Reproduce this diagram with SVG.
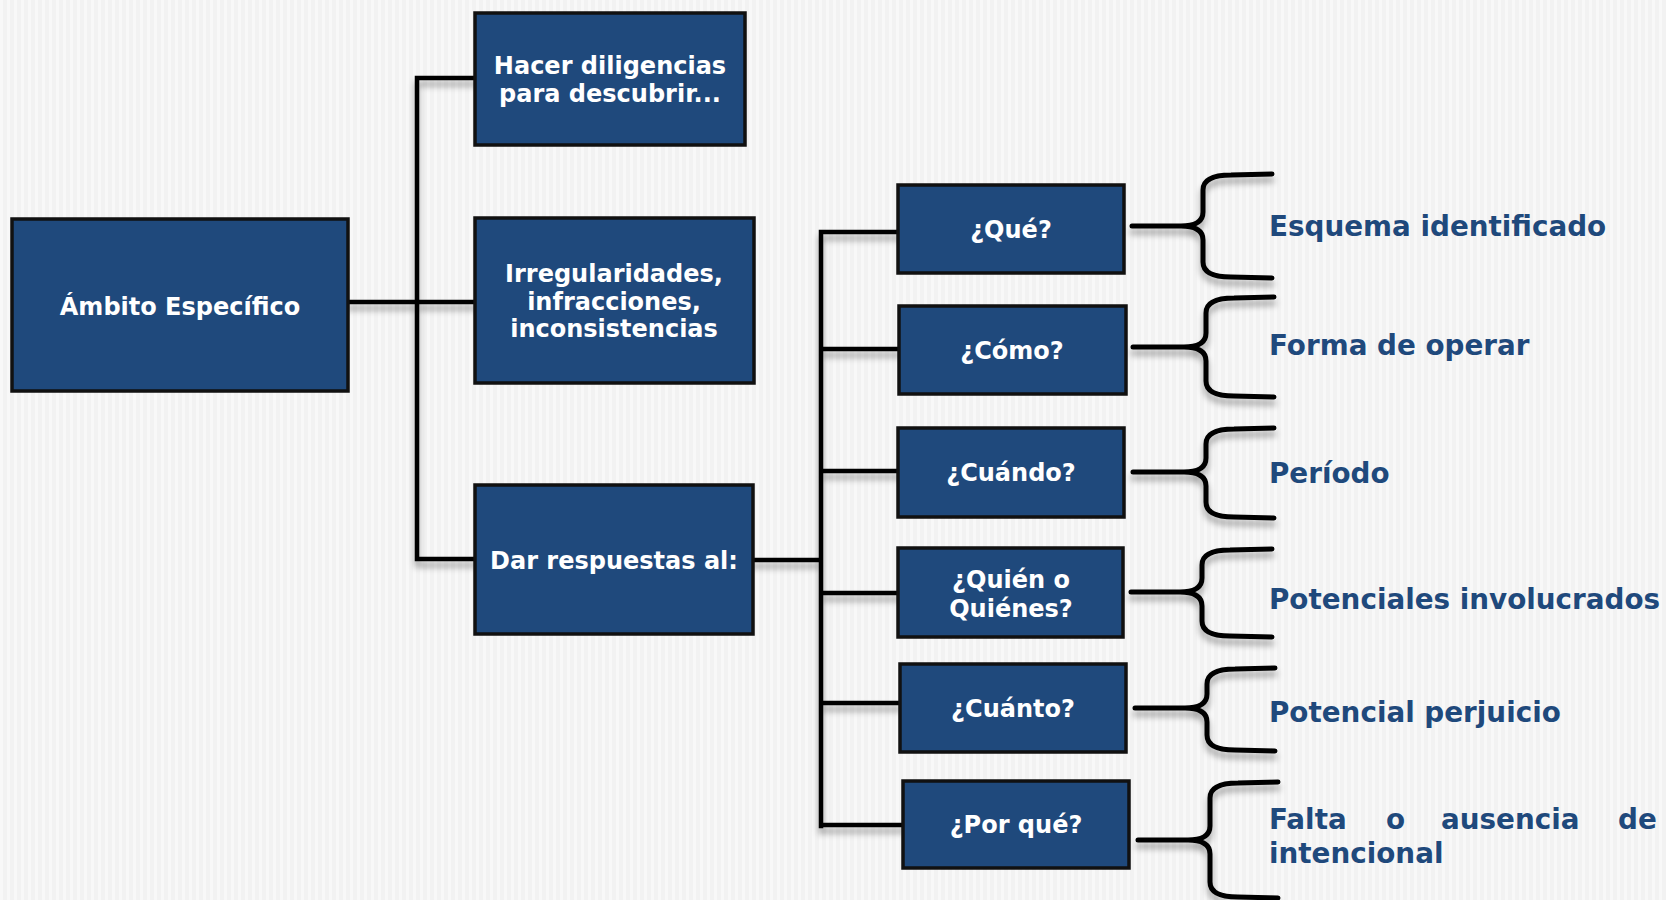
<svg xmlns="http://www.w3.org/2000/svg" width="1666" height="900" viewBox="0 0 1666 900">
<defs>
<pattern id="bg" width="7" height="7" patternUnits="userSpaceOnUse">
<rect width="7" height="7" fill="#f2f2f2"/>
<rect x="0" y="0" width="3" height="7" fill="#f8f8f8"/>
</pattern>
<filter id="sh" x="-10%" y="-10%" width="120%" height="130%">
<feDropShadow dx="0" dy="6" stdDeviation="3" flood-color="#000" flood-opacity="0.35"/>
</filter>
<style>
.box{fill:#1f497c;stroke:#111;stroke-width:3.5}
.bt{font-family:"DejaVu Sans","Verdana",sans-serif;font-weight:bold;font-size:24px;fill:#fff;text-anchor:middle}
.lt{font-family:"DejaVu Sans","Verdana",sans-serif;font-weight:bold;font-size:27.8px;fill:#1f497c}
.ln{fill:none;stroke:#000;stroke-width:4.5;stroke-linecap:square}
.br{fill:none;stroke:#000;stroke-width:5;stroke-linecap:round}
</style>
</defs>
<rect width="1666" height="900" fill="url(#bg)"/>

<g id="connectors" filter="url(#sh)">
<path class="ln" d="M417,78 V559 M417,78 H475 M348,302 H475 M417,559 H475 M753,560 H821 M821,232 V826 M821,232 H898 M821,349 H899 M821,471 H898 M821,593 H898 M821,703 H900 M821,825 H903"/>
<path class="br" d="M1132,226 H1181 Q1203,226 1203,212 V190 Q1203,175 1231,175 L1272,174 M1181,226 Q1203,226 1203,240 V262 Q1203,277 1231,277 L1272,278"/>
<path class="br" d="M1133,347 H1184 Q1206,347 1206,333 V313 Q1206,298 1234,298 L1274,297 M1184,347 Q1206,347 1206,361 V381 Q1206,396 1234,396 L1274,397"/>
<path class="br" d="M1133,472 H1184 Q1206,472 1206,458 V444 Q1206,429 1234,429 L1274,428 M1184,472 Q1206,472 1206,486 V502 Q1206,517 1234,517 L1274,518"/>
<path class="br" d="M1131,592 H1180 Q1202,592 1202,578 V565 Q1202,550 1230,550 L1272,549 M1180,592 Q1202,592 1202,606 V621 Q1202,636 1230,636 L1272,637"/>
<path class="br" d="M1135,708 H1185 Q1207,708 1207,694 V684 Q1207,669 1235,669 L1275,668 M1185,708 Q1207,708 1207,722 V735 Q1207,750 1235,750 L1275,751"/>
<path class="br" d="M1138,840 H1188 Q1210,840 1210,826 V798 Q1210,783 1238,783 L1278,782 M1188,840 Q1210,840 1210,854 V882 Q1210,897 1238,897 L1278,898"/>
</g>

<g id="n-ambito"><rect class="box" x="12" y="219" width="336" height="172"/><text class="bt" x="180" y="315">Ámbito Específico</text></g>
<g id="n-hacer"><rect class="box" x="475" y="13" width="270" height="132"/><text class="bt" x="610" y="74">Hacer diligencias</text><text class="bt" x="610" y="102">para descubrir...</text></g>
<g id="n-irreg"><rect class="box" x="475" y="218" width="279" height="165"/><text class="bt" x="614" y="282">Irregularidades,</text><text class="bt" x="614" y="310">infracciones,</text><text class="bt" x="614" y="337">inconsistencias</text></g>
<g id="n-dar"><rect class="box" x="475" y="485" width="278" height="149"/><text class="bt" x="614" y="569">Dar respuestas al:</text></g>

<g id="n-que"><rect class="box" x="898" y="185" width="226" height="88"/><text class="bt" x="1011" y="238">¿Qué?</text></g>
<g id="n-como"><rect class="box" x="899" y="306" width="227" height="88"/><text class="bt" x="1012" y="359">¿Cómo?</text></g>
<g id="n-cuando"><rect class="box" x="898" y="428" width="226" height="89"/><text class="bt" x="1011" y="481">¿Cuándo?</text></g>
<g id="n-quien"><rect class="box" x="898" y="548" width="225" height="89"/><text class="bt" x="1011" y="588">¿Quién o</text><text class="bt" x="1011" y="617">Quiénes?</text></g>
<g id="n-cuanto"><rect class="box" x="900" y="664" width="226" height="88"/><text class="bt" x="1013" y="717">¿Cuánto?</text></g>
<g id="n-porque"><rect class="box" x="903" y="781" width="226" height="87"/><text class="bt" x="1016" y="833">¿Por qué?</text></g>

<g id="l-esquema"><text class="lt" x="1269" y="236">Esquema identificado</text></g>
<g id="l-forma"><text class="lt" x="1269" y="355">Forma de operar</text></g>
<g id="l-periodo"><text class="lt" x="1269" y="483">Período</text></g>
<g id="l-potinv"><text class="lt" x="1269" y="609">Potenciales involucrados</text></g>
<g id="l-potper"><text class="lt" x="1269" y="722">Potencial perjuicio</text></g>
<g id="l-falta"><text class="lt" y="829"><tspan x="1269">Falta</tspan><tspan x="1386">o</tspan><tspan x="1441">ausencia</tspan><tspan x="1618">de</tspan></text><text class="lt" x="1269" y="863">intencional</text></g>
</svg>
